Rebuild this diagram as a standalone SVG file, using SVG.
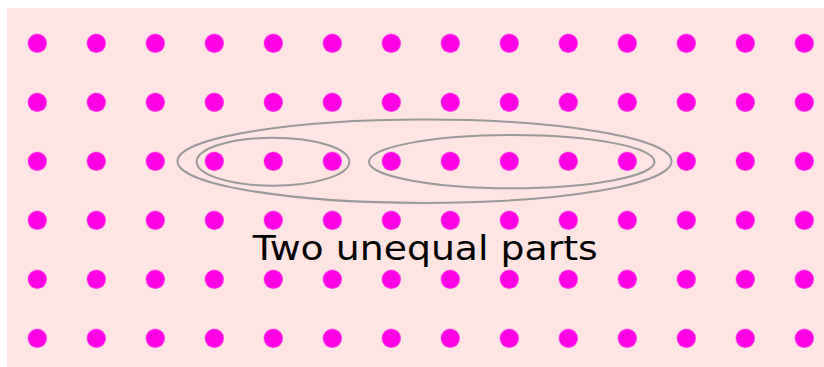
<svg xmlns="http://www.w3.org/2000/svg" width="824" height="367" viewBox="0 0 824 367">
<defs>
<style>
.dot{fill:#ff00e6}
.ring{fill:none;stroke:#9a9a9a;stroke-width:2}
.lbl{font-family:"DejaVu Sans",sans-serif;font-size:33px;fill:#000}
</style>
<pattern id="dots" x="7.8" y="13.8" width="59" height="59" patternUnits="userSpaceOnUse">
<circle class="dot" cx="29.5" cy="29.5" r="9.5"/>
</pattern>
</defs>
<rect x="7" y="8" width="817" height="359" fill="#ffe4e4"/>
<g id="dots-grid">
<rect x="7" y="8" width="817" height="359" fill="url(#dots)"/>
</g>
<g id="connectors">
<ellipse id="outer" class="ring" cx="424.5" cy="161.2" rx="247" ry="41.7"/>
<ellipse id="left-part" class="ring" cx="273" cy="161.7" rx="76.3" ry="24"/>
<ellipse id="right-part" class="ring" cx="511.7" cy="161.7" rx="142.7" ry="26.6"/>
</g>
<g id="label">
<text class="lbl" x="425.3" y="259.5" text-anchor="middle" textLength="345" lengthAdjust="spacingAndGlyphs">Two unequal parts</text>
</g>
</svg>
